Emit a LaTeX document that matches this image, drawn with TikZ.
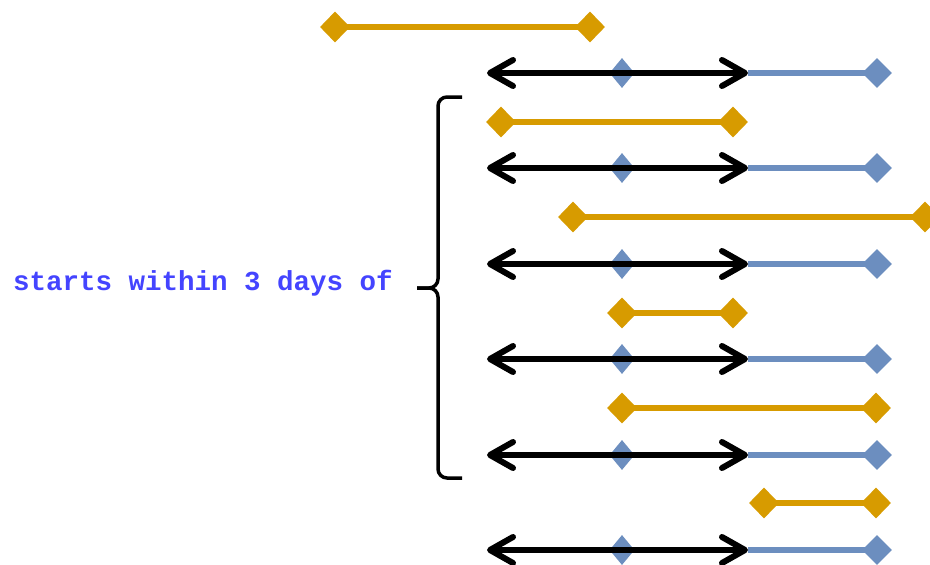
\documentclass[tikz,border=0pt]{standalone}
\usepackage{fontspec}
\newfontfamily\daysfont{Liberation Mono}
\usetikzlibrary{shapes, arrows.meta, positioning, calc, backgrounds}
\definecolor{spanorange}{RGB}{215,155,0}
\definecolor{spanblue}{RGB}{108,142,191}
\definecolor{labelblue}{RGB}{68,68,255}

\begin{document}
\begin{tikzpicture}[x=1pt, y=-1pt,
  odia/.style={diamond, fill=spanorange, minimum width=30pt, minimum height=31pt, inner sep=0pt},
  bdia/.style={diamond, fill=spanblue, minimum width=30pt, minimum height=30pt, inner sep=0pt},
  bmid/.style={bdia, minimum width=25pt},
  oline/.style={draw=spanorange, line width=6.5pt},
  bline/.style={draw=spanblue, line width=5.5pt},
  twoway/.style={draw=black, line width=6pt, {Straight Barb[length=23pt, width=26pt, round]}-{Straight Barb[length=23pt, width=26pt, round]}},
  brc/.style={draw=black, line width=3.5pt, rounded corners=9pt},
  daylbl/.style={font=\daysfont\bfseries\fontsize{27.5}{30}\selectfont, text=labelblue, inner sep=0pt}
]
  \useasboundingbox (0,0) rectangle (930,565);
  % candidate spans
  \foreach \n/\y/\xa/\xb in {1/27/335/590, 2/122/501/733, 3/217/573/925, 4/313/622/733, 5/408/622/876, 6/503/764/876} {
    \node[odia] (o\n a) at (\xa,\y) {};
    \node[odia] (o\n b) at (\xb,\y) {};
    \begin{scope}[on background layer]
      \draw[oline] (o\n a.center) -- (o\n b.center);
    \end{scope}
  }
  % reference span and its window
  \foreach \n/\y in {1/73, 2/168, 3/264, 4/359, 5/455, 6/550} {
    \node[bmid] (m\n) at (622,\y) {};
    \node[bdia] (e\n) at (877,\y) {};
    \coordinate (l\n) at (487,\y);
    \coordinate (r\n) at (748,\y);
    \begin{scope}[on background layer]
      \draw[bline] (r\n) -- (e\n.center);
    \end{scope}
    \draw[twoway] (l\n) -- (r\n);
  }
  % brace
  \coordinate (brTop) at (462,97);
  \coordinate (brBot) at (462,478);
  \coordinate (brMid) at (438,288);
  \coordinate (brTip) at (417,288);
  \draw[brc] (brTop) -- (brTop -| brMid) -- (brMid) -- (brTip);
  \draw[brc] (brBot) -- (brBot -| brMid) -- (brMid) -- (brTip);
  \node[daylbl, left=24pt of brTip, yshift=5pt] (lbl) {starts within 3 days of};
\end{tikzpicture}
\end{document}
